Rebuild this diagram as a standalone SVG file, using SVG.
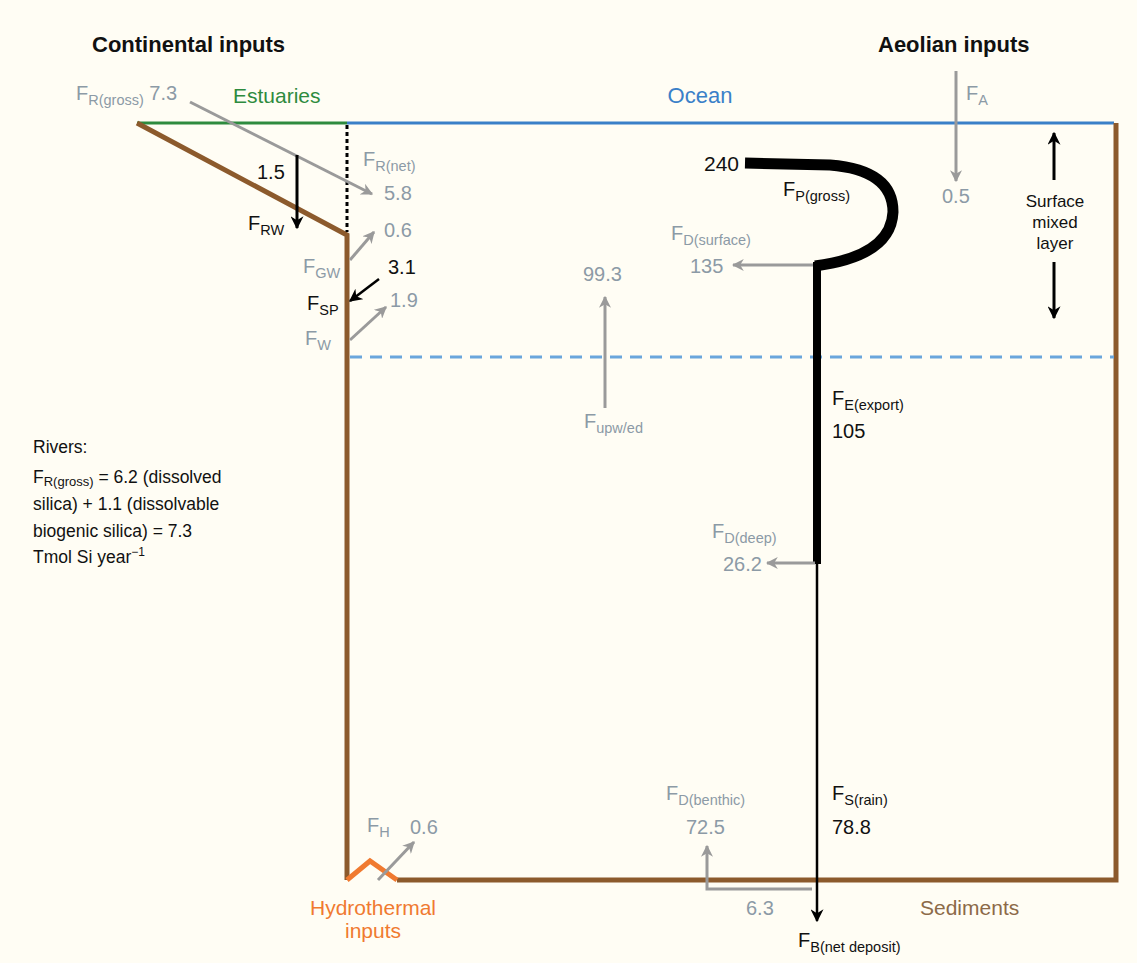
<svg xmlns="http://www.w3.org/2000/svg" width="1137" height="963" viewBox="0 0 1137 963">
<defs>
<marker id="ag" viewBox="0 0 10 10" refX="9" refY="5" markerWidth="12" markerHeight="12" markerUnits="userSpaceOnUse" orient="auto"><path d="M0,0 L10,5 L0,10 L3,5 z" fill="#9a9a9a"/></marker>
<marker id="ab" viewBox="0 0 10 10" refX="9" refY="5" markerWidth="13" markerHeight="13" markerUnits="userSpaceOnUse" orient="auto"><path d="M0,0 L10,5 L0,10 L3,5 z" fill="#000"/></marker>
</defs>
<style>
text{font-family:"Liberation Sans","Open Sans",sans-serif;}
.t{font-size:20px;}
.g{fill:#8c9aa6;}
.k{fill:#111;}
.sub{font-size:14.5px;}
.h{font-size:22px;font-weight:bold;fill:#111;}
.brown{stroke:#8c5a2c;stroke-width:5;fill:none;}
.ga{stroke:#9a9a9a;stroke-width:3;fill:none;marker-end:url(#ag);}
.ba{stroke:#000;stroke-width:3;fill:none;marker-end:url(#ab);}
.sm{font-size:17.5px;fill:#111;}
.ml{font-size:17px;fill:#111;}
</style>
<rect x="0" y="0" width="1137" height="963" fill="#fffdf4"/>

<g id="structure">
<line x1="137" y1="123" x2="347" y2="123" stroke="#2e8b3e" stroke-width="3"/>
<line x1="347" y1="123" x2="1114" y2="123" stroke="#3a80c8" stroke-width="3"/>
<polyline class="brown" points="137,123 347,235 347,880"/>
<polyline class="brown" points="397,880 1116,880 1116,123"/>
<polyline points="347,880 370,861 397,880" fill="none" stroke="#f07a30" stroke-width="5"/>
<line x1="347" y1="125" x2="347" y2="232" stroke="#000" stroke-width="3" stroke-dasharray="4,3"/>
<line x1="350" y1="357" x2="1114" y2="357" stroke="#6aa6dc" stroke-width="3" stroke-dasharray="12,8"/>
</g>

<g id="connectors">
<line class="ga" x1="190" y1="102" x2="372" y2="194"/>
<line class="ba" x1="297" y1="155" x2="297" y2="228"/>
<line class="ga" x1="350" y1="260" x2="374" y2="232"/>
<line class="ga" x1="350" y1="340" x2="386" y2="307"/>
<line stroke="#000" stroke-width="2.5" fill="none" marker-end="url(#ab)" x1="379" y1="279" x2="350" y2="301"/>
<line class="ga" x1="956" y1="71" x2="956" y2="181"/>
<line class="ba" x1="1054" y1="180" x2="1054" y2="133"/>
<line class="ba" x1="1054" y1="262" x2="1054" y2="318"/>
<path d="M745,163 L830,165 Q893,170 893,212 Q891,256 815,266" fill="none" stroke="#000" stroke-width="11"/>
<line x1="817" y1="262" x2="817" y2="564" stroke="#000" stroke-width="8"/>
<line stroke="#000" stroke-width="2.5" fill="none" marker-end="url(#ab)" x1="817" y1="563" x2="817" y2="921"/>
<line class="ga" x1="813" y1="265" x2="733" y2="265"/>
<line class="ga" x1="605" y1="408" x2="605" y2="297"/>
<line class="ga" x1="815" y1="563" x2="767" y2="563"/>
<polyline class="ga" points="812,889 707,889 707,846"/>
<line class="ga" x1="378" y1="880" x2="414" y2="842"/>
</g>

<g id="titles">
<text class="h" x="92" y="52">Continental inputs</text>
<text class="h" x="878" y="52">Aeolian inputs</text>
<text x="233" y="103" font-size="21" fill="#2e8b3e">Estuaries</text>
<text x="700" y="103" font-size="22" fill="#3a80c8" text-anchor="middle">Ocean</text>
</g>

<g id="river-labels">
<text class="t g" x="76" y="100">F<tspan class="sub" dy="5">R(gross)</tspan><tspan dy="-5"> 7.3</tspan></text>
<text class="t g" x="363" y="166">F<tspan class="sub" dy="5">R(net)</tspan></text>
<text class="t g" x="384" y="200">5.8</text>
<text class="t k" x="257" y="179">1.5</text>
<text class="t k" x="248" y="230">F<tspan class="sub" dy="5">RW</tspan></text>
<text class="t g" x="384" y="237">0.6</text>
<text class="t k" x="388" y="274">3.1</text>
<text class="t g" x="390" y="307">1.9</text>
<text class="t g" x="303" y="273">F<tspan class="sub" dy="5">GW</tspan></text>
<text class="t k" x="307" y="310">F<tspan class="sub" dy="5">SP</tspan></text>
<text class="t g" x="305" y="345">F<tspan class="sub" dy="5">W</tspan></text>
</g>

<g id="ocean-labels">
<text class="k" font-size="21" x="704" y="171">240</text>
<text class="t k" x="783" y="196">F<tspan class="sub" dy="5">P(gross)</tspan></text>
<text class="t g" x="671" y="240">F<tspan class="sub" dy="5">D(surface)</tspan></text>
<text class="t g" x="690" y="273">135</text>
<text class="t g" x="583" y="281">99.3</text>
<text class="t g" x="584" y="428">F<tspan class="sub" dy="5">upw/ed</tspan></text>
<text class="t k" x="832" y="405">F<tspan class="sub" dy="5">E(export)</tspan></text>
<text class="t k" x="832" y="438">105</text>
<text class="t g" x="712" y="538">F<tspan class="sub" dy="5">D(deep)</tspan></text>
<text class="t g" x="723" y="571">26.2</text>
<text class="t g" x="966" y="100">F<tspan class="sub" dy="5">A</tspan></text>
<text class="t g" x="942" y="203">0.5</text>
<text class="ml" x="1055" y="207" text-anchor="middle">Surface</text>
<text class="ml" x="1055" y="228" text-anchor="middle">mixed</text>
<text class="ml" x="1055" y="249" text-anchor="middle">layer</text>
</g>

<g id="rivers-note">
<text class="sm" x="33" y="453">Rivers:</text>
<text class="sm" x="33" y="483">F<tspan font-size="13" dy="3">R(gross)</tspan><tspan dy="-3"> = 6.2 (dissolved</tspan></text>
<text class="sm" x="33" y="510">silica) + 1.1 (dissolvable</text>
<text class="sm" x="33" y="537">biogenic silica) = 7.3</text>
<text class="sm" x="33" y="563">Tmol Si year<tspan font-size="12" dy="-7">−1</tspan></text>
</g>

<g id="bottom-labels">
<text class="t g" x="367" y="832">F<tspan class="sub" dy="5">H</tspan></text>
<text class="t g" x="410" y="834">0.6</text>
<text x="373" y="915" font-size="21" fill="#f07a30" text-anchor="middle">Hydrothermal</text>
<text x="373" y="938" font-size="21" fill="#f07a30" text-anchor="middle">inputs</text>
<text class="t g" x="666" y="800">F<tspan class="sub" dy="5">D(benthic)</tspan></text>
<text class="t g" x="686" y="834">72.5</text>
<text class="t k" x="832" y="800">F<tspan class="sub" dy="5">S(rain)</tspan></text>
<text class="t k" x="832" y="834">78.8</text>
<text class="t g" x="746" y="915">6.3</text>
<text x="920" y="915" font-size="21" fill="#8c6a48">Sediments</text>
<text class="t k" x="798" y="947">F<tspan class="sub" dy="5">B(net deposit)</tspan></text>
</g>
</svg>
